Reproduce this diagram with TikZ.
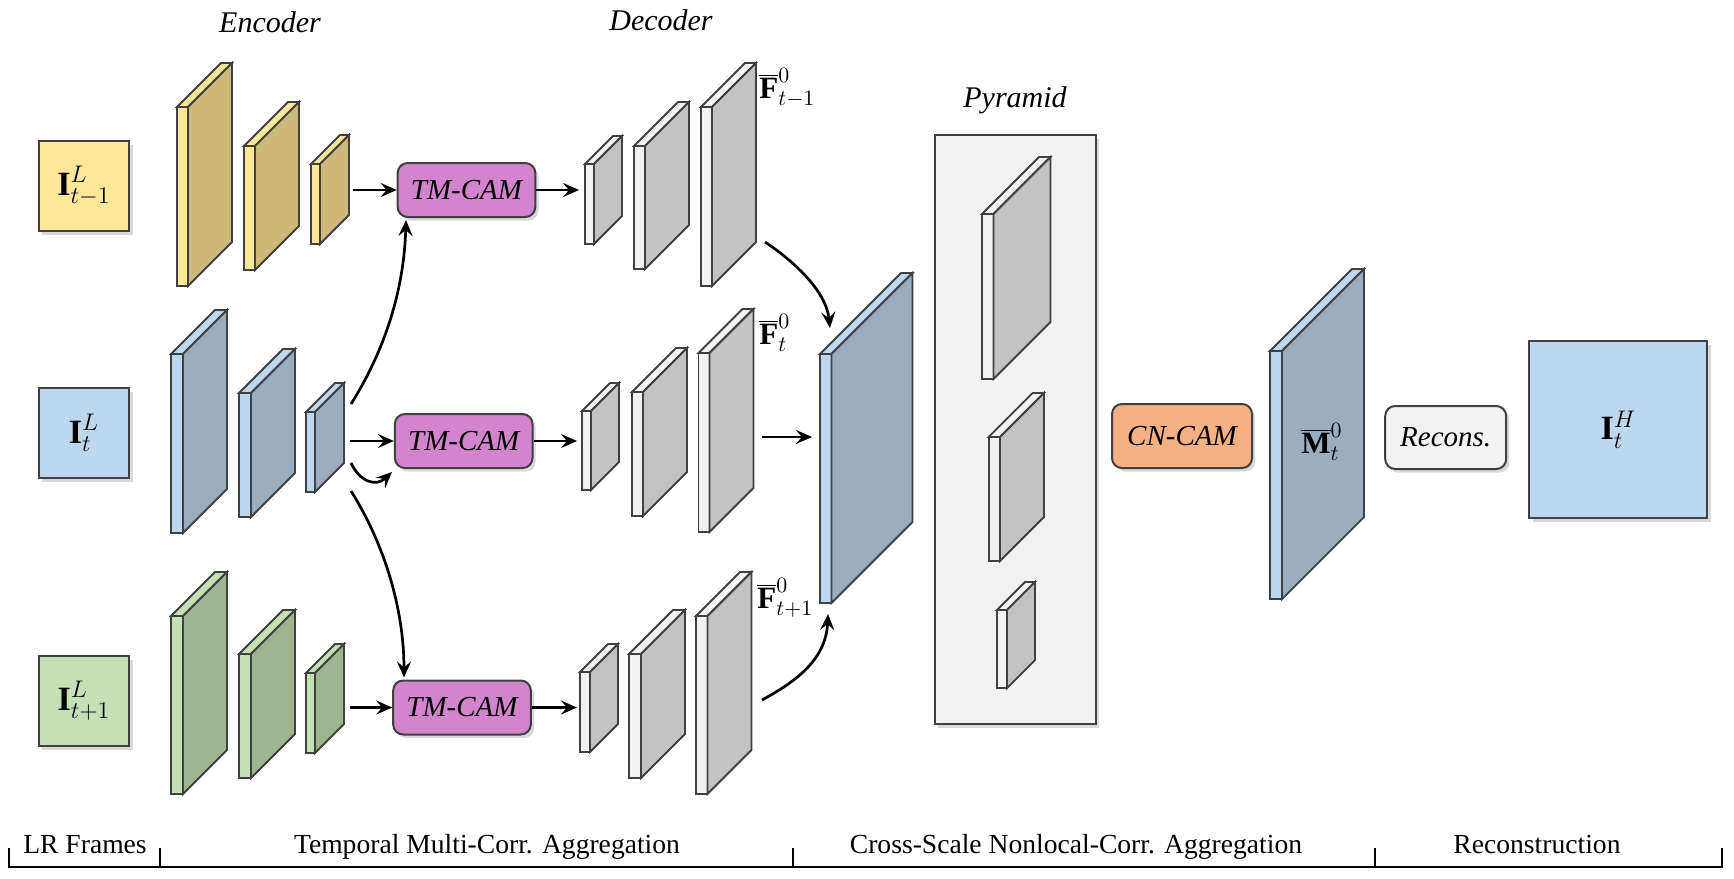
\documentclass[tikz,border=0pt]{standalone}
\usepackage{fontspec}
\setmainfont{Liberation Serif}
\usetikzlibrary{shadows,arrows.meta}
\definecolor{ylwF}{HTML}{FFE699}
\definecolor{ylwS}{HTML}{CDB97A}
\definecolor{bluF}{HTML}{BDD7EE}
\definecolor{bluS}{HTML}{9AAEBF}
\definecolor{grnF}{HTML}{C5E0B4}
\definecolor{grnS}{HTML}{9FB592}
\definecolor{gryF}{HTML}{F2F2F2}
\definecolor{gryS}{HTML}{C3C3C3}
\definecolor{tmC}{HTML}{D384CF}
\definecolor{cnC}{HTML}{F4B183}
\definecolor{edgeC}{HTML}{404040}
% #1 name, #2 x, #3 ytop, #4 w, #5 h, #6 depth, #7 light, #8 side
\newcommand{\fslab}[8]{%
 \filldraw[slabline,fill=#7] (#2,#3) rectangle (#2+#4,#3+#5);
 \filldraw[slabline,fill=#7] (#2,#3) -- (#2+#6,#3-#6) -- (#2+#4+#6,#3-#6) -- (#2+#4,#3) -- cycle;
 \filldraw[slabline,fill=#8] (#2+#4,#3) -- (#2+#4+#6,#3-#6) -- (#2+#4+#6,#3+#5-#6) -- (#2+#4,#3+#5) -- cycle;
 \coordinate (#1) at (#2+#4+#6/2,#3+#5/2-#6/2);
}
\tikzset{
 slabline/.style={draw=edgeC,line width=0.9pt},
 myshadow/.style={drop shadow={shadow xshift=1.6pt,shadow yshift=-1.8pt,opacity=0.3}},
 inbox/.style={draw=edgeC,line width=1pt,minimum width=45.3pt,minimum height=45pt,inner sep=0pt,myshadow,font=\fontsize{17}{20}\selectfont},
 cam/.style={draw=edgeC,line width=1pt,rounded corners=5pt,inner sep=0pt,myshadow,font=\fontsize{14.5}{16}\selectfont\itshape},
 lbl/.style={inner sep=0pt,font=\fontsize{15}{17}\selectfont\itshape},
 flbl/.style={inner sep=0pt,font=\fontsize{15.5}{18}\selectfont},
 sec/.style={inner sep=0pt,anchor=base,font=\fontsize{13.8}{15}\selectfont},
 arr/.style={line width=1.35pt,-{Stealth[length=8pt,width=7pt,inset=3pt]}},
 ruler/.style={line width=1.4pt}
}
\begin{document}
\begin{tikzpicture}[x=0.5pt,y=-0.5pt]
\useasboundingbox (0,0) rectangle (1734,878);
% labels
\node[lbl] (enc) at (270,22) {Encoder};
\node[lbl] (dec) at (661,20) {Decoder};
\node[lbl] (pyl) at (1015,100) {Pyramid};
% inputs
\node[inbox,fill=ylwF] (in1) at (84,186) {$\mathbf{I}^{L}_{t-1}$};
\node[inbox,fill=bluF] (in2) at (84,433) {$\mathbf{I}^{L}_{t}$};
\node[inbox,fill=grnF] (in3) at (84,701) {$\mathbf{I}^{L}_{t+1}$};
% encoder slabs
\fslab{e11}{177}{107}{11}{179}{44}{ylwF}{ylwS}
\fslab{e12}{244}{146}{11}{124}{44}{ylwF}{ylwS}
\fslab{e13}{311}{164}{9}{80}{29}{ylwF}{ylwS}
\fslab{e21}{171}{354}{12}{179}{44}{bluF}{bluS}
\fslab{e22}{239}{393}{12}{124}{44}{bluF}{bluS}
\fslab{e23}{306}{412}{9}{80}{29}{bluF}{bluS}
\fslab{e31}{171}{616}{12}{178}{44}{grnF}{grnS}
\fslab{e32}{239}{654}{12}{124}{44}{grnF}{grnS}
\fslab{e33}{306}{673}{9}{80}{29}{grnF}{grnS}
% TM-CAM
\node[cam,fill=tmC,minimum width=68.8pt,minimum height=27pt] (tm1) at (466.5,190) {TM-CAM};
\node[cam,fill=tmC,minimum width=68.8pt,minimum height=27pt] (tm2) at (463.7,441) {TM-CAM};
\node[cam,fill=tmC,minimum width=68.8pt,minimum height=27pt] (tm3) at (462,707.5) {TM-CAM};
% decoder slabs
\fslab{d11}{585}{164}{9}{80}{28}{gryF}{gryS}
\fslab{d12}{634}{146}{11}{123}{44}{gryF}{gryS}
\fslab{d13}{701}{107}{11}{179}{44}{gryF}{gryS}
\fslab{d21}{582}{411}{9}{79}{28}{gryF}{gryS}
\fslab{d22}{632}{392}{11}{124}{44}{gryF}{gryS}
\fslab{d23}{698.5}{353}{11}{179}{44}{gryF}{gryS}
\fslab{d31}{580}{672}{10}{80}{28}{gryF}{gryS}
\fslab{d32}{629}{654}{12}{124}{44}{gryF}{gryS}
\fslab{d33}{696}{616}{11.5}{178}{44}{gryF}{gryS}
\node[flbl,anchor=west] (f1) at (759,88) {$\overline{\mathbf{F}}^{0}_{t-1}$};
\node[flbl,anchor=west] (f2) at (759,333) {$\overline{\mathbf{F}}^{0}_{t}$};
\node[flbl,anchor=west] (f3) at (757,598) {$\overline{\mathbf{F}}^{0}_{t+1}$};
% fused
\fslab{fu}{820}{354}{11.5}{249}{81}{bluF}{bluS}
% pyramid
\node[draw=edgeC,fill=gryF,line width=0.9pt,minimum width=80.5pt,minimum height=294.5pt,inner sep=0pt,myshadow] (pyr) at (1015.5,429.5) {};
\fslab{p1}{982}{214}{11.5}{165}{57}{gryF}{gryS}
\fslab{p2}{988.6}{437}{11.4}{124}{44}{gryF}{gryS}
\fslab{p3}{997}{610}{10}{78}{28}{gryF}{gryS}
% CN-CAM, M, recons, output
\node[cam,fill=cnC,minimum width=70pt,minimum height=32pt] (cn) at (1182,436) {CN-CAM};
\fslab{ms}{1270}{351}{12}{248}{82}{bluF}{bluS}
\node[flbl] (ml) at (1322,442) {$\overline{\mathbf{M}}^{0}_{t}$};
\node[cam,fill=gryF,minimum width=60.5pt,minimum height=31.5pt] (rec) at (1445.7,437.5) {Recons.};
\node[inbox,fill=bluF,minimum width=89pt,minimum height=88.5pt] (out) at (1618.4,429.5) {$\mathbf{I}^{H}_{t}$};
% arrows encoder -> TM
\coordinate (e1o) at (353,190);
\coordinate (e2o) at (350,441);
\coordinate (e3o) at (350,707.5);
\draw[arr] (e1o) -- (tm1.west);
\draw[arr] (e2o) -- (tm2.west);
\draw[arr] (e3o) -- (tm3.west);
\coordinate (d1i) at (579,190);
\coordinate (d2i) at (577,441);
\coordinate (d3i) at (577,707.5);
\draw[arr] (tm1.east) -- (d1i);
\draw[arr] (tm2.east) -- (d2i);
\draw[arr] (tm3.east) -- (d3i);
% cross arrows
\coordinate (cu) at (351,404);
\coordinate (cs) at (351,463);
\coordinate (cse) at (392,472);
\coordinate (cd) at (351,491);
\draw[arr] (cu) .. controls (385,350) and (404,290) .. ([xshift=-30.25pt,yshift=-1pt]tm1.south);
\draw[arr] (cs) .. controls (360,482) and (376,487) .. (cse);
\draw[arr] (cd) .. controls (385,545) and (404,610) .. ([xshift=-29pt,yshift=1pt]tm3.north);
% decoder -> fused
\coordinate (g1) at (765,242);
\coordinate (g1e) at (830,328);
\coordinate (g2) at (762,437);
\coordinate (g2e) at (812,437);
\coordinate (g3) at (762,700);
\coordinate (g3e) at (828,614);
\draw[arr] (g1) .. controls (792,260) and (826,290) .. (g1e);
\draw[arr] (g2) -- (g2e);
\draw[arr] (g3) .. controls (795,682) and (826,660) .. (g3e);
% ruler
\coordinate (r0) at (9,867);
\coordinate (r4) at (1722,867);
\draw[ruler] (9,848) -- (r0) -- (r4) -- (1722,848);
\draw[ruler] (160,848) -- (160,867);
\draw[ruler] (793,848) -- (793,867);
\draw[ruler] (1375,848) -- (1375,867);
\node[sec] (s1) at (85,853) {LR Frames};
\node[sec] (s2) at (487,853) {Temporal Multi-Corr. Aggregation};
\node[sec] (s3) at (1076,853) {Cross-Scale Nonlocal-Corr. Aggregation};
\node[sec] (s4) at (1537,853) {Reconstruction};
\end{tikzpicture}
\end{document}
